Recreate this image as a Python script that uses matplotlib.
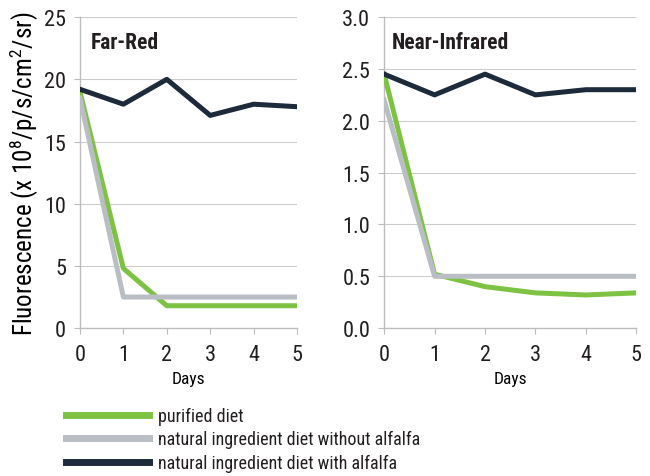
import matplotlib.pyplot as plt
from matplotlib import font_manager

days = [0, 1, 2, 3, 4, 5]

# Far-Red panel
fr_purified = [19.0, 4.8, 1.8, 1.8, 1.8, 1.8]
fr_no_alfalfa = [18.5, 2.5, 2.5, 2.5, 2.5, 2.5]
fr_alfalfa = [19.2, 18.0, 20.0, 17.1, 18.0, 17.8]

# Near-Infrared panel
nir_purified = [2.45, 0.52, 0.40, 0.34, 0.32, 0.34]
nir_no_alfalfa = [2.2, 0.5, 0.5, 0.5, 0.5, 0.5]
nir_alfalfa = [2.45, 2.25, 2.45, 2.25, 2.3, 2.3]

labels = ["purified diet",
          "natural ingredient diet without alfalfa",
          "natural ingredient diet with alfalfa"]
colors = ["#7dc242", "#b9bdc4", "#1c2a3a"]

# pick a narrow font if one is there
names = set(f.name for f in font_manager.fontManager.ttflist)
fam = "Open Sans"
for cand in ["Roboto Condensed", "Open Sans Condensed", "Liberation Sans Narrow"]:
    if cand in names:
        fam = cand
        break
plt.rcParams['font.family'] = [fam, 'DejaVu Sans']
plt.rcParams['mathtext.fontset'] = 'custom'
plt.rcParams['mathtext.rm'] = fam
plt.rcParams['text.color'] = '#231f20'

fig = plt.figure(figsize=(6.5, 4.77), dpi=100)
ax1 = fig.add_axes([0.123, 0.310, 0.334, 0.652])
ax2 = fig.add_axes([0.591, 0.310, 0.388, 0.652])

panels = [
    (ax1, [fr_purified, fr_no_alfalfa, fr_alfalfa], 25, [0, 5, 10, 15, 20, 25],
     ["0", "5", "10", "15", "20", "25"], "Far-Red", 0.052),
    (ax2, [nir_purified, nir_no_alfalfa, nir_alfalfa], 3.0, [0, 0.5, 1.0, 1.5, 2.0, 2.5, 3.0],
     ["0.0", "0.5", "1.0", "1.5", "2.0", "2.5", "3.0"], "Near-Infrared", 0.032),
]

for ax, series, ymax, yt, ytl, title, tx in panels:
    lines = []
    for s, c, lab in zip(series, colors, labels):
        ln, = ax.plot(days, s, color=c, lw=3.6, label=lab, zorder=3)
        lines.append(ln)
    ax.set_xlim(0, 5)
    ax.set_ylim(0, ymax)
    ax.set_yticks(yt)
    ax.set_yticklabels(ytl)
    ax.set_xticks(days)
    ax.grid(axis='y', color='#cccccc', lw=0.8)
    ax.set_axisbelow(True)
    for sp in ['top', 'right']:
        ax.spines[sp].set_visible(False)
    for sp in ['left', 'bottom']:
        ax.spines[sp].set_color('#bdbdbd')
        ax.spines[sp].set_linewidth(1.0)
    ax.tick_params(axis='both', colors='#bdbdbd', labelcolor='#231f20', labelsize=16, length=4, pad=3)
    ax.tick_params(axis='x', pad=7.5)
    ax.tick_params(axis='y', pad=6)
    ax.set_xlabel("Days", fontsize=12.5, labelpad=4)
    ax.text(tx, 0.955, title, transform=ax.transAxes, fontsize=15.5, fontweight='bold', va='top')

ax1.set_ylabel("Fluorescence (x 10$^{\\mathrm{8}}$/p/s/cm$^{\\mathrm{2}}$/sr)", fontsize=18, labelpad=2)

fig.legend(lines, labels, loc='upper left', bbox_to_anchor=(0.102, 0.145), frameon=False,
           fontsize=13, handlelength=4.6, handletextpad=0.5, labelspacing=0.3,
           borderaxespad=0, borderpad=0)
for lh in fig.legends[0].get_lines():
    lh.set_linewidth(5)

fig.savefig("out.png", dpi=100)
